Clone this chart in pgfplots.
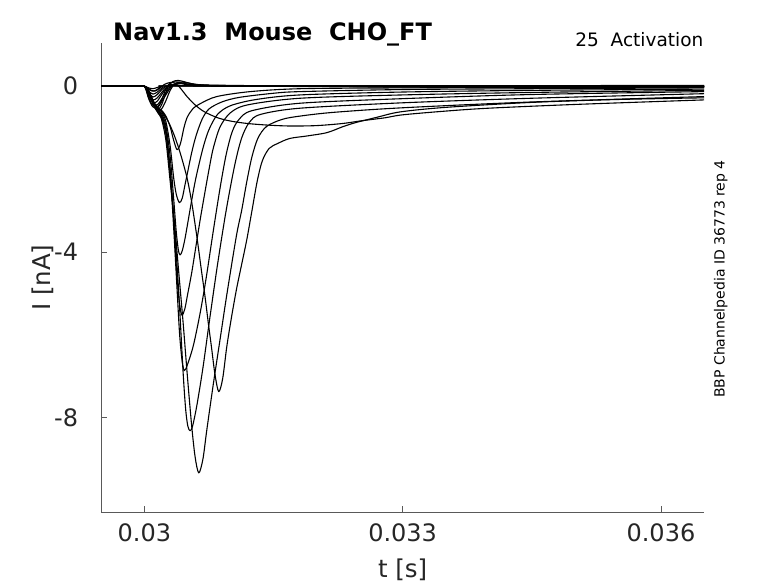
\documentclass[border=0pt]{standalone}
\usepackage{fontspec}
\setmainfont{DejaVu Sans}
\usepackage{pgfplots}
\pgfplotsset{compat=1.18}
\begin{document}
\begin{tikzpicture}[x=1pt,y=1pt]
\path[use as bounding box] (0,0) rectangle (778,583);
\begin{axis}[
  at={(101.3pt,70.7pt)}, anchor=south west,
  scale only axis, width=602.7pt, height=469.3pt,
  xmin=0.0295, xmax=0.0365, ymin=-10.28, ymax=1.043,
  axis x line*=bottom, axis y line*=left,
  axis line style={black!65, line width=0.8pt, -},
  x axis line style={-}, y axis line style={-},
  xtick pos=left, ytick pos=left,
  tick style={black!65, line width=0.8pt},
  tick align=inside, major tick length=6pt,
  xtick={0.03,0.033,0.036}, xticklabels={0.03,0.033,0.036},
  ytick={-8,-4,0}, yticklabels={-8,-4,0},
  scaled x ticks=false, scaled y ticks=false,
  tick label style={font=\fontsize{24}{28}\selectfont, text=black!85},
  xticklabel style={anchor=base, yshift=-29.2pt, inner sep=0pt},
  yticklabel style={anchor=east, inner sep=0pt, xshift=-23pt},
  every axis x label/.style={at={(axis description cs:0.5,-0.1379)}, anchor=base, font=\fontsize{24.5}{28}\selectfont, text=black!85},
  every axis y label/.style={at={(axis description cs:-0.0838,0.5)}, rotate=90, anchor=base, font=\fontsize{24.5}{28}\selectfont, text=black!85},
  xlabel={t [s]}, ylabel={I [nA]},
  tr/.style={black, line width=1.1pt, smooth, mark=none, line join=round},
]
% capacitive-only traces
\addplot[tr] coordinates {(0.0295,0) (0.0299,0) (0.03,0) (0.03005,-0.04) (0.0301,-0.06) (0.03015,-0.03) (0.0302,0) (0.0304,0.01) (0.033,0.01) (0.0365,0.02)};
\addplot[tr] coordinates {(0.0295,0) (0.0299,0) (0.03,0) (0.03005,-0.08) (0.0301,-0.12) (0.03015,-0.08) (0.03021,0) (0.0304,0.01) (0.033,0.01) (0.0365,0.01)};
\addplot[tr] coordinates {(0.0295,0) (0.0299,0) (0.03,0) (0.03005,-0.12) (0.0301,-0.19) (0.03015,-0.14) (0.03022,-0.02) (0.0303,0.02) (0.0305,0.01) (0.033,0) (0.0365,0.01)};
\addplot[tr] coordinates {(0.0295,0) (0.0299,0) (0.03,0) (0.03005,-0.16) (0.0301,-0.26) (0.03015,-0.2) (0.03022,-0.05) (0.0303,0.02) (0.0305,0.01) (0.033,0) (0.0365,0)};
\addplot[tr] coordinates {(0.0295,0) (0.0299,0) (0.03,0) (0.03005,-0.2) (0.0301,-0.33) (0.03015,-0.28) (0.03023,-0.08) (0.03031,0.03) (0.0305,0.01) (0.033,0) (0.0365,-0.01)};
\addplot[tr] coordinates {(0.0295,0) (0.0299,0) (0.03,0) (0.03005,-0.24) (0.0301,-0.4) (0.03015,-0.36) (0.03023,-0.12) (0.03032,0.03) (0.0305,0.02) (0.033,-0.01) (0.0365,-0.01)};
\addplot[tr] coordinates {(0.0295,0) (0.0299,0) (0.03,0) (0.03005,-0.28) (0.0301,-0.46) (0.03016,-0.43) (0.03024,-0.18) (0.03033,0.04) (0.03045,0.06) (0.0307,0.02) (0.033,-0.01) (0.0365,-0.02)};
\addplot[tr] coordinates {(0.0295,0) (0.0299,0) (0.03,0) (0.03005,-0.3) (0.0301,-0.5) (0.03016,-0.5) (0.03024,-0.24) (0.03033,0.02) (0.03045,0.07) (0.0307,0.03) (0.033,-0.02) (0.0365,-0.02)};
% outward traces
\addplot[tr] coordinates {(0.0295,0) (0.0299,0) (0.03,0) (0.03004,-0.1) (0.03008,-0.3) (0.03012,-0.5) (0.03016,-0.56) (0.0302,-0.45) (0.03024,-0.22) (0.03028,0.0) (0.03033,0.11) (0.03039,0.14) (0.03046,0.11) (0.03055,0.06) (0.0307,0.02) (0.031,0.01) (0.033,0) (0.0365,-0.01)};
\addplot[tr] coordinates {(0.0295,0) (0.0299,0) (0.03,0) (0.03004,-0.1) (0.03008,-0.32) (0.03012,-0.52) (0.03016,-0.6) (0.0302,-0.55) (0.03025,-0.35) (0.0303,-0.1) (0.03035,0.05) (0.03041,0.1) (0.03048,0.09) (0.03058,0.05) (0.03075,0.02) (0.031,0) (0.033,-0.01) (0.0365,-0.01)};
\addplot[tr] coordinates {(0.0295,0) (0.0299,0) (0.03,0) (0.03004,-0.09) (0.03008,-0.28) (0.03012,-0.45) (0.03016,-0.48) (0.0302,-0.34) (0.03024,-0.12) (0.03028,0.04) (0.03033,0.1) (0.03039,0.1) (0.03046,0.07) (0.03055,0.04) (0.0307,0.01) (0.031,0) (0.0365,0)};
% inward sodium currents
\addplot[tr] coordinates {(0.0295,0) (0.0299,0) (0.03,0) (0.03004,-0.08) (0.03008,-0.25) (0.03012,-0.42) (0.03016,-0.52) (0.0302,-0.58) (0.03025,-0.72) (0.0303,-0.98) (0.03034,-1.3) (0.03038,-1.53) (0.03042,-1.38) (0.03046,-1.0) (0.0305,-0.74) (0.03057,-0.53) (0.03065,-0.42) (0.03084,-0.25) (0.03123,-0.13) (0.03181,-0.06) (0.033,-0.04) (0.0345,-0.03) (0.0365,-0.02)};
\addplot[tr] coordinates {(0.0295,0) (0.0299,0) (0.03,0) (0.03004,-0.08) (0.03008,-0.26) (0.03012,-0.44) (0.03016,-0.55) (0.0302,-0.62) (0.03025,-0.85) (0.0303,-1.45) (0.03034,-2.2) (0.03037,-2.6) (0.030407,-2.81) (0.03044,-2.7) (0.03047,-2.4) (0.0305,-2.1) (0.03055,-1.6) (0.0306,-1.2) (0.03067,-0.8) (0.03075,-0.55) (0.0309,-0.38) (0.0311,-0.27) (0.0315,-0.17) (0.03181,-0.13) (0.033,-0.08) (0.0345,-0.06) (0.0365,-0.04)};
\addplot[tr] coordinates {(0.0295,0) (0.0299,0) (0.03,0) (0.03004,-0.08) (0.03008,-0.27) (0.03012,-0.46) (0.03016,-0.58) (0.0302,-0.66) (0.03025,-0.95) (0.0303,-1.7) (0.03034,-2.7) (0.03037,-3.5) (0.030395,-3.95) (0.030415,-4.07) (0.03044,-3.97) (0.03047,-3.7) (0.0305,-3.35) (0.03055,-2.75) (0.0306,-2.2) (0.03068,-1.5) (0.03075,-1.05) (0.03085,-0.68) (0.031,-0.47) (0.0313,-0.32) (0.03181,-0.21) (0.033,-0.14) (0.0345,-0.1) (0.0365,-0.07)};
\addplot[tr] coordinates {(0.0295,0) (0.0299,0) (0.03,0) (0.03004,-0.08) (0.03008,-0.27) (0.03012,-0.47) (0.03016,-0.6) (0.0302,-0.7) (0.03025,-1.05) (0.0303,-2.0) (0.03034,-3.2) (0.03037,-4.3) (0.0304,-5.1) (0.030434,-5.52) (0.03047,-5.37) (0.0305,-5.05) (0.03055,-4.5) (0.0306,-3.85) (0.03065,-3.2) (0.0307,-2.6) (0.03075,-2.02) (0.0308,-1.5) (0.03088,-0.98) (0.031,-0.64) (0.0312,-0.45) (0.03181,-0.29) (0.033,-0.21) (0.0345,-0.15) (0.0365,-0.1)};
\addplot[tr] coordinates {(0.0295,0) (0.0299,0) (0.03,0) (0.03004,-0.08) (0.03008,-0.27) (0.03012,-0.48) (0.03016,-0.62) (0.0302,-0.73) (0.03025,-1.1) (0.0303,-2.1) (0.03034,-3.4) (0.03038,-4.9) (0.03041,-6.0) (0.03044,-6.65) (0.030465,-6.86) (0.0305,-6.72) (0.03057,-6.25) (0.03065,-5.45) (0.03072,-4.6) (0.0308,-3.5) (0.03088,-2.45) (0.03095,-1.65) (0.03102,-1.1) (0.0311,-0.8) (0.03125,-0.59) (0.03181,-0.41) (0.033,-0.3) (0.0345,-0.2) (0.0365,-0.13)};
\addplot[tr] coordinates {(0.0295,0) (0.0299,0) (0.03,0) (0.03004,-0.08) (0.03008,-0.28) (0.03012,-0.5) (0.03016,-0.64) (0.0302,-0.76) (0.03025,-1.15) (0.0303,-2.1) (0.03035,-3.4) (0.0304,-5.0) (0.03045,-6.9) (0.03048,-7.8) (0.030505,-8.2) (0.030531,-8.31) (0.03056,-8.2) (0.03061,-7.7) (0.03068,-6.8) (0.03076,-5.6) (0.03085,-4.3) (0.03095,-3.0) (0.03105,-1.9) (0.03113,-1.25) (0.03122,-0.87) (0.03135,-0.68) (0.03181,-0.53) (0.033,-0.4) (0.0345,-0.29) (0.0365,-0.18)};
\addplot[tr] coordinates {(0.0295,0) (0.0299,0) (0.03,0) (0.03004,-0.08) (0.03008,-0.28) (0.03012,-0.5) (0.03016,-0.65) (0.0302,-0.8) (0.03025,-1.3) (0.0303,-2.3) (0.03035,-3.3) (0.0304,-4.5) (0.03045,-5.7) (0.0305,-7.0) (0.03055,-8.2) (0.03059,-8.95) (0.030632,-9.33) (0.03068,-9.0) (0.030725,-8.3) (0.0308,-7.2) (0.03088,-6.1) (0.03096,-5.0) (0.03107,-3.6) (0.03113,-3.0) (0.03119,-2.3) (0.03125,-1.7) (0.03132,-1.25) (0.03142,-0.97) (0.0316,-0.8) (0.03181,-0.72) (0.0322,-0.63) (0.033,-0.52) (0.0345,-0.38) (0.0365,-0.25)};
\addplot[tr] coordinates {(0.0295,0) (0.0299,0) (0.03,0) (0.03004,-0.07) (0.03008,-0.24) (0.03012,-0.42) (0.03016,-0.52) (0.0302,-0.6) (0.03025,-0.75) (0.0303,-0.95) (0.03035,-1.2) (0.0304,-1.5) (0.03045,-1.85) (0.0305,-2.25) (0.03055,-2.8) (0.03061,-3.63) (0.03066,-4.4) (0.030705,-5.08) (0.030745,-5.75) (0.03078,-6.3) (0.03082,-6.95) (0.030864,-7.37) (0.03091,-7.05) (0.030957,-6.29) (0.03101,-5.6) (0.03107,-4.9) (0.03113,-4.3) (0.03119,-3.7) (0.03125,-3.0) (0.03131,-2.3) (0.03137,-1.8) (0.03145,-1.5) (0.03155,-1.38) (0.03169,-1.26) (0.03189,-1.2) (0.03212,-1.12) (0.0323,-0.98) (0.03245,-0.88) (0.0327,-0.75) (0.03297,-0.62) (0.0335,-0.51) (0.0345,-0.39) (0.0355,-0.32) (0.0365,-0.28)};
\addplot[tr] coordinates {(0.0295,0) (0.0299,0) (0.03,0) (0.03004,-0.04) (0.03008,-0.1) (0.03012,-0.12) (0.03017,-0.06) (0.03023,0.04) (0.0303,0.09) (0.03036,0.07) (0.03042,-0.05) (0.0305,-0.26) (0.0306,-0.47) (0.0307,-0.62) (0.03085,-0.76) (0.031,-0.84) (0.0312,-0.9) (0.03145,-0.94) (0.0317,-0.96) (0.032,-0.95) (0.0323,-0.9) (0.0325,-0.84) (0.03265,-0.8) (0.0328,-0.76) (0.033,-0.69) (0.0335,-0.6) (0.034,-0.53) (0.035,-0.44) (0.0365,-0.33)};
\end{axis}
\node[anchor=base west, inner sep=0pt, font=\bfseries\fontsize{24}{28}\selectfont] at (113,542) {Nav1.3\ \ Mouse\ \ CHO\_FT};
\node[anchor=base east, inner sep=0pt, font=\fontsize{18.5}{22}\selectfont] at (703.5,536.3) {25\ \ Activation};
\node[rotate=90, anchor=base, inner sep=0pt, font=\fontsize{14}{17}\selectfont] at (724.7,304) {BBP Channelpedia ID 36773 rep 4};
\end{tikzpicture}
\end{document}
